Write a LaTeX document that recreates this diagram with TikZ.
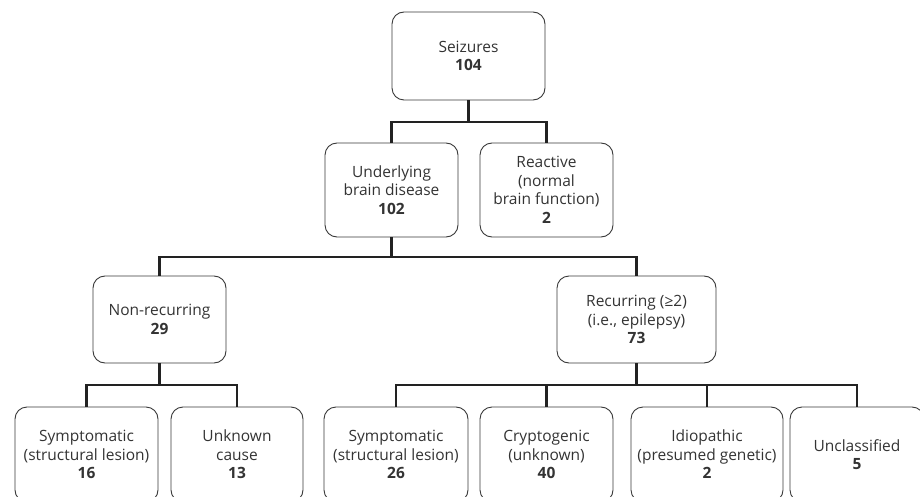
\documentclass[tikz,border=0pt]{standalone}
\usepackage{fontspec}
\setmainfont{Open Sans}
\definecolor{txt}{HTML}{333333}
\definecolor{ln}{HTML}{222222}
\begin{document}
\begin{tikzpicture}[x=1pt,y=-1pt,
  box/.style={draw=ln!90, line width=0.9pt, rounded corners=12pt, align=center,
    text=txt, inner sep=0pt, font=\fontsize{15.5}{18.5}\selectfont},
  conn/.style={draw=ln, line width=2.6pt}]
\useasboundingbox (0,0) rectangle (920,497);
\begin{scope}
\clip (0,0) rectangle (920,497);
\node[box, minimum width=153pt, minimum height=88pt] (seiz) at (468.5,56) {Seizures\\\textbf{104}};
\node[box, minimum width=133pt, minimum height=94pt] (und) at (391.5,190) {Underlying\\brain disease\\\textbf{102}};
\node[box, minimum width=133pt, minimum height=94pt] (rea) at (546.5,190) {Reactive\\(normal\\brain function)\\\textbf{2}};
\node[box, minimum width=133pt, minimum height=87pt] (nonr) at (159.5,319.5) {Non-recurring\\\textbf{29}};
\node[box, minimum width=159pt, minimum height=87pt] (rec) at (636.5,319.5) {Recurring (≥2)\\(i.e., epilepsy)\\\textbf{73}};
\node[box, minimum width=143pt, minimum height=95pt] (sym1) at (86.5,454.5) {Symptomatic\\(structural lesion)\\\textbf{16}};
\node[box, minimum width=132pt, minimum height=95pt] (unk) at (237,454.5) {Unknown\\cause\\\textbf{13}};
\node[box, minimum width=144pt, minimum height=95pt] (sym2) at (396,454.5) {Symptomatic\\(structural lesion)\\\textbf{26}};
\node[box, minimum width=133pt, minimum height=95pt] (cry) at (546.5,454.5) {Cryptogenic\\(unknown)\\\textbf{40}};
\node[box, minimum width=152pt, minimum height=95pt] (idi) at (707,454.5) {Idiopathic\\(presumed genetic)\\\textbf{2}};
\node[box, minimum width=134pt, minimum height=95pt] (uncl) at (857,454.5) {Unclassified\\\textbf{5}};
\coordinate (j1) at (468.5,122);
\coordinate (j2) at (391.5,257);
\coordinate (j3) at (159.5,385);
\coordinate (j4) at (636.5,385);
\draw[conn] (seiz.south) -- (j1);
\draw[conn] (und.north) |- (j1) -| (rea.north);
\draw[conn] (und.south) -- (j2);
\draw[conn] (nonr.north) |- (j2) -| (rec.north);
\draw[conn] (nonr.south) -- (j3);
\draw[conn] (sym1.north) |- (j3) -| (unk.north);
\draw[conn] (rec.south) -- (j4);
\draw[conn] (sym2.north) |- (j4) -| (uncl.north);
\draw[conn] (cry.north) -- (cry.north |- j4);
\draw[conn] (idi.north) -- (idi.north |- j4);
\end{scope}
\end{tikzpicture}
\end{document}
